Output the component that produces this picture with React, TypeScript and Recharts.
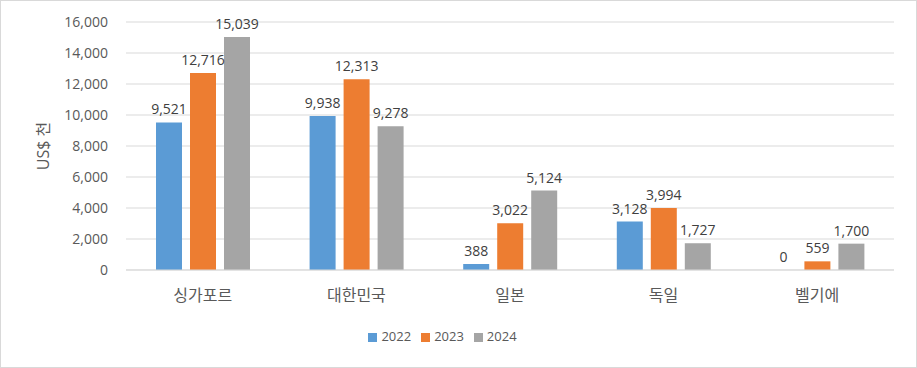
import { BarChart, Bar, XAxis, YAxis, CartesianGrid, Legend, LabelList } from "recharts";

const countries = ["싱가포르", "대한민국", "일본", "독일", "벨기에"];
const v2022 = [9521, 9938, 388, 3128, 0];
const v2023 = [12716, 12313, 3022, 3994, 559];
const v2024 = [15039, 9278, 5124, 1727, 1700];
const yTicks = [0, 2000, 4000, 6000, 8000, 10000, 12000, 14000, 16000];

const data = countries.map((name, i) => ({
  name,
  y2022: v2022[i],
  y2023: v2023[i],
  y2024: v2024[i],
}));

const FONT = "'Open Sans', 'Noto Sans CJK KR', sans-serif";
const TEXT = "#595959";
const fmt = (v: number) => v.toLocaleString("en-US");

// draws the value above the bar, also for zero-height bars
const ValueLabel = (props: any) => {
  const { x, y, width, value } = props;
  if (value === undefined || value === null) return null;
  return (
    <text
      x={Number(x) + Number(width) / 2}
      y={Number(y) - 8}
      textAnchor="middle"
      fill="#404040"
      fontSize={14}
      fontFamily={FONT}
    >
      {fmt(Number(value))}
    </text>
  );
};

// keep zero bars in the layout so their "0" label is still drawn
const tinyForZero = (value: any) => (Number(value) === 0 ? 0.01 : 0);

const App = () => {
  return (
    <div
      style={{
        position: "fixed",
        top: 0,
        left: 0,
        width: 915,
        height: 366,
        border: "1px solid #d9d9d9",
        background: "#fff",
        fontFamily: FONT,
      }}
    >
      <BarChart
        width={915}
        height={366}
        data={data}
        margin={{ top: 21, right: 22, left: 0, bottom: 22 }}
        barSize={26}
        barGap={8}
      >
        <CartesianGrid vertical={false} stroke="#d9d9d9" />
        <XAxis
          dataKey="name"
          axisLine={{ stroke: "#d9d9d9" }}
          tickLine={false}
          tickMargin={14}
          height={57}
          tick={{ fill: TEXT, fontSize: 16, fontFamily: FONT }}
        />
        <YAxis
          width={125}
          domain={[0, 16000]}
          ticks={yTicks}
          tickFormatter={fmt}
          axisLine={false}
          tickLine={false}
          tickMargin={12}
          tick={{ fill: TEXT, fontSize: 14, fontFamily: FONT }}
          label={{
            value: "US$ 천",
            angle: -90,
            position: "center",
            dx: -20,
            fill: TEXT,
            fontSize: 16,
            fontFamily: FONT,
          }}
        />
        <Legend
          verticalAlign="bottom"
          iconType="square"
          iconSize={9}
          wrapperStyle={{ fontSize: 13, fontFamily: FONT, color: TEXT }}
          formatter={(value) => <span style={{ color: TEXT }}>{value}</span>}
        />
        <Bar dataKey="y2022" name="2022" fill="#5B9BD5" minPointSize={tinyForZero} isAnimationActive={false}>
          <LabelList dataKey="y2022" content={ValueLabel} />
        </Bar>
        <Bar dataKey="y2023" name="2023" fill="#ED7D31" isAnimationActive={false}>
          <LabelList dataKey="y2023" content={ValueLabel} />
        </Bar>
        <Bar dataKey="y2024" name="2024" fill="#A5A5A5" isAnimationActive={false}>
          <LabelList dataKey="y2024" content={ValueLabel} />
        </Bar>
      </BarChart>
    </div>
  );
};

export default App;
